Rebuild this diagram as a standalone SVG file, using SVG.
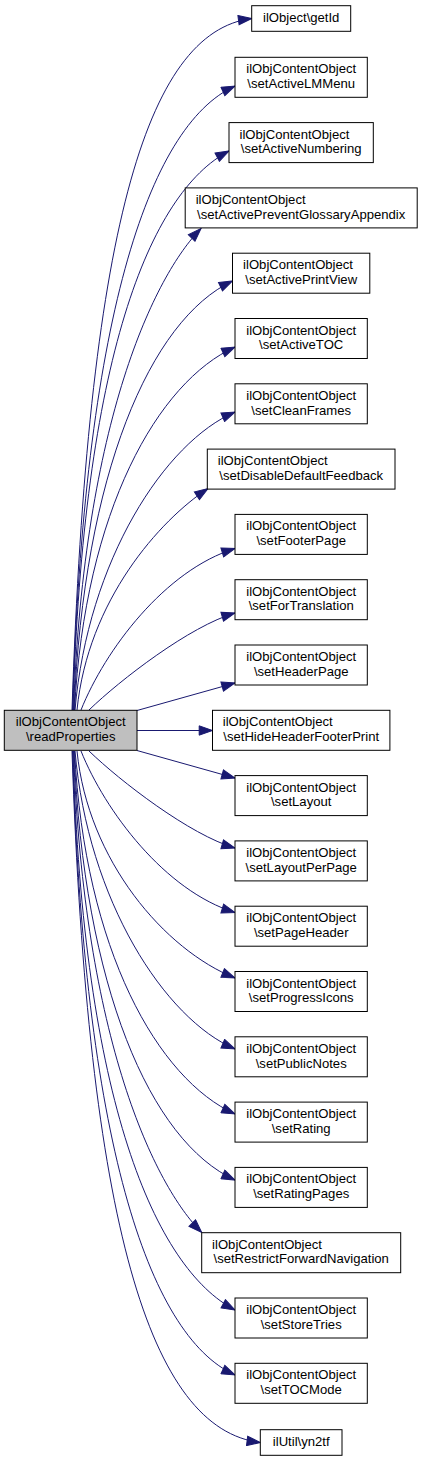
<svg xmlns="http://www.w3.org/2000/svg" width="423" height="1461" viewBox="0 0 423 1461">
<style>
.n rect{fill:#ffffff;stroke:#000000;stroke-width:1}
.n.root rect{fill:#bfbfbf}
.n text{font-family:"Liberation Sans",Arial,Helvetica,sans-serif;font-size:13.1px;fill:#000000}
.c{text-anchor:middle}
.s{text-anchor:start}
.e path{fill:none;stroke:#191970;stroke-width:1;marker-end:url(#ah)}
</style>
<defs>
<marker id="ah" markerUnits="userSpaceOnUse" markerWidth="15" markerHeight="11" viewBox="-1 -5.5 15 11" refX="13.3" refY="0" orient="auto">
<path d="M0,-4.67 L13.3,0 L0,4.67 Z" fill="#191970" stroke="#191970" stroke-width="1"/>
</marker>
</defs>
<rect width="423" height="1461" fill="#ffffff"/>
<g id="edges" class="e">
<path d="M72,710 C88,235 145,32 251.7,18.5"/>
<path d="M72.5,710 C84,325 147,126 235,86"/>
<path d="M73,710 C83,360 149,193 229,151"/>
<path d="M73.5,710 C84,420 155,275 201,228.5"/>
<path d="M74,710 C84,474 150,320 232.5,281"/>
<path d="M74.5,710 C85,510 158,382 235,347"/>
<path d="M75,710 C88,560 165,442 235,412"/>
<path d="M77,710 C88,600 160,520 208,488.5"/>
<path d="M81,710 C105,650 165,570 235,548.5"/>
<path d="M89,710 C120,680 190,626 235,613"/>
<path d="M137,710.5 L235,683"/>
<path d="M137,730.5 L212.5,730.5"/>
<path d="M137,750.5 L235,778"/>
<path d="M89,751 C120,781 190,835 235,848"/>
<path d="M81,751 C105,811 165,891 235,912.5"/>
<path d="M77,751 C88,861 165,950 235,978"/>
<path d="M75,751 C88,901 165,1019 235,1049"/>
<path d="M74.5,751 C85,951 158,1079 235,1114"/>
<path d="M74,751 C84,987 150,1141 235,1180"/>
<path d="M73.5,751 C84,1041 155,1186 201.7,1232.5"/>
<path d="M73,751 C83,1101 155,1268 235,1310"/>
<path d="M72.5,751 C84,1136 147,1335 235,1375"/>
<path d="M72,751 C88,1226 150,1429 260.3,1442.5"/>
</g>
<g id="readProperties" class="n root"><rect x="4.3" y="710.3" width="132.7" height="40"/><text class="c" x="70.7" y="726.3">ilObjContentObject</text><text class="c" x="70.7" y="741">\readProperties</text></g>
<g id="getId" class="n"><rect x="251.7" y="5.7" width="99" height="25.6"/><text class="c" x="301.2" y="22.2">ilObject\getId</text></g>
<g id="setActiveLMMenu" class="n"><rect x="235" y="57.3" width="132.3" height="40"/><text class="c" x="301.2" y="73.3">ilObjContentObject</text><text class="c" x="301.2" y="88">\setActiveLMMenu</text></g>
<g id="setActiveNumbering" class="n"><rect x="229" y="122.6" width="144.3" height="40"/><text class="s" x="239.5" y="138.6">ilObjContentObject</text><text class="c" x="301.2" y="153.3">\setActiveNumbering</text></g>
<g id="setActivePreventGlossaryAppendix" class="n"><rect x="185.2" y="187.9" width="232" height="40"/><text class="s" x="195.7" y="203.9">ilObjContentObject</text><text class="c" x="301.2" y="218.6">\setActivePreventGlossaryAppendix</text></g>
<g id="setActivePrintView" class="n"><rect x="232.5" y="253.2" width="137.3" height="40"/><text class="s" x="243.1" y="269.2">ilObjContentObject</text><text class="c" x="301.2" y="283.9">\setActivePrintView</text></g>
<g id="setActiveTOC" class="n"><rect x="235" y="318.5" width="132.3" height="40"/><text class="c" x="301.2" y="334.5">ilObjContentObject</text><text class="c" x="301.2" y="349.2">\setActiveTOC</text></g>
<g id="setCleanFrames" class="n"><rect x="235" y="383.8" width="132.3" height="40"/><text class="c" x="301.2" y="399.8">ilObjContentObject</text><text class="c" x="301.2" y="414.5">\setCleanFrames</text></g>
<g id="setDisableDefaultFeedback" class="n"><rect x="207.3" y="449.1" width="187.7" height="40"/><text class="s" x="217.8" y="465.1">ilObjContentObject</text><text class="c" x="301.2" y="479.8">\setDisableDefaultFeedback</text></g>
<g id="setFooterPage" class="n"><rect x="235" y="514.4" width="132.3" height="40"/><text class="c" x="301.2" y="530.4">ilObjContentObject</text><text class="c" x="301.2" y="545.1">\setFooterPage</text></g>
<g id="setForTranslation" class="n"><rect x="235" y="579.7" width="132.3" height="40"/><text class="c" x="301.2" y="595.7">ilObjContentObject</text><text class="c" x="301.2" y="610.4">\setForTranslation</text></g>
<g id="setHeaderPage" class="n"><rect x="235" y="645" width="132.3" height="40"/><text class="c" x="301.2" y="661">ilObjContentObject</text><text class="c" x="301.2" y="675.7">\setHeaderPage</text></g>
<g id="setHideHeaderFooterPrint" class="n"><rect x="212.5" y="710.3" width="177.4" height="40"/><text class="s" x="222.8" y="726.3">ilObjContentObject</text><text class="c" x="301.2" y="741">\setHideHeaderFooterPrint</text></g>
<g id="setLayout" class="n"><rect x="235" y="775.6" width="132.3" height="40"/><text class="c" x="301.2" y="791.6">ilObjContentObject</text><text class="c" x="301.2" y="806.3">\setLayout</text></g>
<g id="setLayoutPerPage" class="n"><rect x="235" y="840.9" width="132.3" height="40"/><text class="c" x="301.2" y="856.9">ilObjContentObject</text><text class="c" x="301.2" y="871.6">\setLayoutPerPage</text></g>
<g id="setPageHeader" class="n"><rect x="235" y="906.2" width="132.3" height="40"/><text class="c" x="301.2" y="922.2">ilObjContentObject</text><text class="c" x="301.2" y="936.9">\setPageHeader</text></g>
<g id="setProgressIcons" class="n"><rect x="235" y="971.5" width="132.3" height="40"/><text class="c" x="301.2" y="987.5">ilObjContentObject</text><text class="c" x="301.2" y="1002.2">\setProgressIcons</text></g>
<g id="setPublicNotes" class="n"><rect x="235" y="1036.8" width="132.3" height="40"/><text class="c" x="301.2" y="1052.8">ilObjContentObject</text><text class="c" x="301.2" y="1067.5">\setPublicNotes</text></g>
<g id="setRating" class="n"><rect x="235" y="1102.1" width="132.3" height="40"/><text class="c" x="301.2" y="1118.1">ilObjContentObject</text><text class="c" x="301.2" y="1132.8">\setRating</text></g>
<g id="setRatingPages" class="n"><rect x="235" y="1167.4" width="132.3" height="40"/><text class="c" x="301.2" y="1183.4">ilObjContentObject</text><text class="c" x="301.2" y="1198.1">\setRatingPages</text></g>
<g id="setRestrictForwardNavigation" class="n"><rect x="201.7" y="1232.7" width="199" height="40"/><text class="s" x="212.1" y="1248.7">ilObjContentObject</text><text class="c" x="301.2" y="1263.4">\setRestrictForwardNavigation</text></g>
<g id="setStoreTries" class="n"><rect x="235" y="1298" width="132.3" height="40"/><text class="c" x="301.2" y="1314">ilObjContentObject</text><text class="c" x="301.2" y="1328.7">\setStoreTries</text></g>
<g id="setTOCMode" class="n"><rect x="235" y="1363.3" width="132.3" height="40"/><text class="c" x="301.2" y="1379.3">ilObjContentObject</text><text class="c" x="301.2" y="1394">\setTOCMode</text></g>
<g id="yn2tf" class="n"><rect x="260.3" y="1429.7" width="81.7" height="25.6"/><text class="c" x="301.2" y="1446.2">ilUtil\yn2tf</text></g>
</svg>
